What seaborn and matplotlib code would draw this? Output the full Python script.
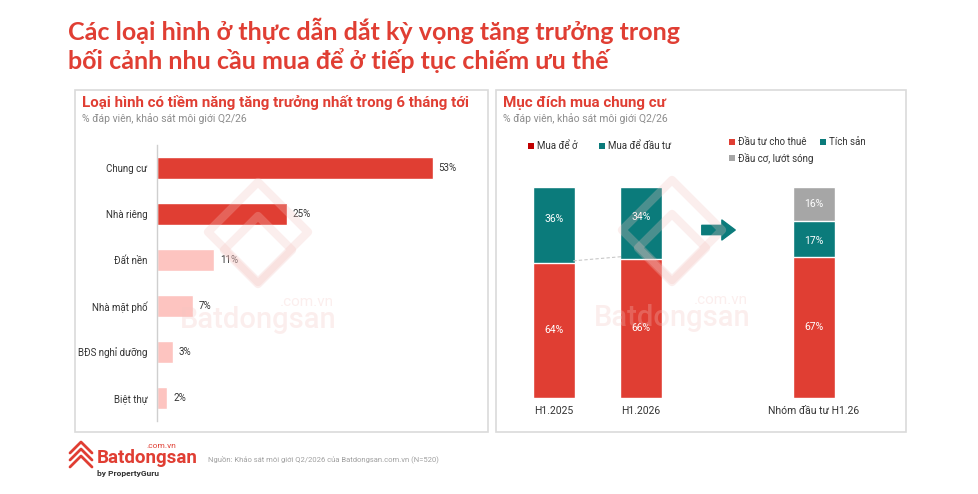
import matplotlib
matplotlib.use('Agg')
import matplotlib.pyplot as plt
from matplotlib.patches import Rectangle, Polygon
import pandas as pd
import seaborn as sns

# ── Dữ liệu ──────────────────────────────────────────────────────────────────
LOAI_HINH = ['Chung cư', 'Nhà riêng', 'Đất nền', 'Nhà mặt phố', 'BĐS nghỉ dưỡng', 'Biệt thự']
TY_LE     = [53, 25, 11, 7, 3, 2]

KY        = ['H1.2025', 'H1.2026']
MUA_DE_O  = [64, 66]
MUA_DAU_TU = [36, 34]

NHOM_DT   = 'Nhóm đầu tư H1.26'
DT_THUE   = 67
TICH_SAN  = 17
LUOT_SONG = 16

RED   = '#E03E33'
PINK  = '#FDC4C0'
TEAL  = '#0B7B7B'
GRAY  = '#A6A6A6'
TXT   = '#333333'
SUB   = '#8C8C8C'

W, H = 979, 494

sns.set_theme(style='white')
plt.rcParams['font.family'] = ['Roboto', 'DejaVu Sans']

fig = plt.figure(figsize=(W / 100, H / 100), dpi=100)
fig.patch.set_facecolor('white')


def fx(x):
    return x / W


def fy(y):
    return 1 - y / H


def box(x0, y0, x1, y1, **kw):
    fig.add_artist(Rectangle((fx(x0), fy(y1)), fx(x1) - fx(x0), fy(y0) - fy(y1),
                             transform=fig.transFigure, **kw))


def swatch(x, y, color, s=6):
    box(x - s / 2, y - s / 2, x + s / 2, y + s / 2, facecolor=color, edgecolor='none', zorder=5)


def watermark(cx, cy):
    wm = dict(color='#F4C4C1', alpha=0.28, zorder=20)
    # icon (hai hình thoi lồng nhau)
    for r, dy in [(50, 0), (34, 18)]:
        pts = [(cx, cy - r + dy), (cx + r, cy + dy), (cx, cy + r + dy), (cx - r, cy + dy)]
        fig.add_artist(Polygon([(fx(a), fy(b)) for a, b in pts], closed=True, fill=False,
                               lw=6, joinstyle='round', transform=fig.transFigure, **wm))
    fig.text(fx(cx), fy(cy + 88), 'Batdongsan', ha='center', va='center', fontsize=21,
             fontweight='medium', **wm)
    fig.text(fx(cx + 76), fy(cy + 70), '.com.vn', ha='right', va='center', fontsize=11, **wm)


# ── Tiêu đề chính ────────────────────────────────────────────────────────────
fig.text(fx(68), fy(31), 'Các loại hình ở thực dẫn dắt kỳ vọng tăng trưởng trong',
         fontsize=18, fontweight='bold', color=RED, va='center', family=['Lato', 'DejaVu Sans'])
fig.text(fx(68), fy(61), 'bối cảnh nhu cầu mua để ở tiếp tục chiếm ưu thế',
         fontsize=18, fontweight='bold', color=RED, va='center', family=['Lato', 'DejaVu Sans'])

# khung hai panel
box(75, 90, 488, 432, facecolor='white', edgecolor='#DADADA', lw=1.2, zorder=0)
box(496, 90, 906, 432, facecolor='white', edgecolor='#DADADA', lw=1.2, zorder=0)

# ── Panel trái ──────────────────────────────────────────────────────────────
fig.text(fx(82), fy(103), 'Loại hình có tiềm năng tăng trưởng nhất trong 6 tháng tới',
         fontsize=10.9, fontweight='bold', color=RED, va='center')
fig.text(fx(82), fy(119), '% đáp viên, khảo sát môi giới Q2/26', fontsize=7.5, color=SUB, va='center')

df_l = pd.DataFrame({'loai': LOAI_HINH, 'ty_le': TY_LE})
colors_l = [RED if v >= 20 else PINK for v in TY_LE]

ax1 = fig.add_axes([fx(157), fy(421), fx(469) - fx(157), fy(145) - fy(421)])
sns.barplot(data=df_l, y='loai', x='ty_le', hue='loai', palette=colors_l, legend=False,
            width=0.48, saturation=1, ax=ax1, orient='h')
ax1.set_xlim(0, 60)
ax1.set_ylim(5.5, -0.5)
for i, v in enumerate(TY_LE):
    ax1.text(v + 1.1, i, f'{v}%', va='center', ha='left', fontsize=7, color=TXT)
ax1.set_xlabel('')
ax1.set_ylabel('')
ax1.set_xticks([])
ax1.tick_params(axis='y', length=0, labelsize=7, labelcolor=TXT, pad=7)
for s in ['top', 'right', 'bottom']:
    ax1.spines[s].set_visible(False)
ax1.spines['left'].set_color('#CFCFCF')
ax1.spines['left'].set_linewidth(1)
ax1.patch.set_alpha(0)

# ── Panel phải ──────────────────────────────────────────────────────────────
fig.text(fx(503), fy(103), 'Mục đích mua chung cư', fontsize=10.9, fontweight='bold', color=RED, va='center')
fig.text(fx(503), fy(119), '% đáp viên, khảo sát môi giới Q2/26', fontsize=7.5, color=SUB, va='center')

ax2 = fig.add_axes([fx(511), fy(398), fx(857) - fx(511), fy(187) - fy(398)])
order = KY + [' ', NHOM_DT]

# lớp trên cùng trước, lớp dưới vẽ đè lên
df_top = pd.DataFrame({'ky': KY + [NHOM_DT],
                       'v': [a + b for a, b in zip(MUA_DE_O, MUA_DAU_TU)] + [DT_THUE + TICH_SAN + LUOT_SONG],
                       'c': [TEAL, TEAL, GRAY]})
df_mid = pd.DataFrame({'ky': [NHOM_DT], 'v': [DT_THUE + TICH_SAN]})
df_bot = pd.DataFrame({'ky': KY + [NHOM_DT], 'v': MUA_DE_O + [DT_THUE]})

sns.barplot(data=df_top, x='ky', y='v', hue='ky', palette=list(df_top['c']), order=order,
            legend=False, width=0.48, saturation=1, ax=ax2)
sns.barplot(data=df_mid, x='ky', y='v', color=TEAL, order=order, width=0.48, saturation=1, ax=ax2)
sns.barplot(data=df_bot, x='ky', y='v', color=RED, order=order, width=0.48, saturation=1, ax=ax2)

ax2.set_xlim(-0.5, 3.5)
ax2.set_ylim(0, 100)
ax2.set_xlabel('')
ax2.set_ylabel('')
ax2.set_yticks([])
ax2.tick_params(axis='x', length=0, labelsize=7.5, labelcolor=TXT, pad=6)
sns.despine(ax=ax2, left=True, bottom=True)
ax2.patch.set_alpha(0)

lbl = dict(ha='center', va='center', fontsize=7.5, color='white')
for i, (o, d) in enumerate(zip(MUA_DE_O, MUA_DAU_TU)):
    ax2.text(i, o / 2, f'{o}%', **lbl)
    ax2.text(i, o + d / 2 + 3, f'{d}%', **lbl)
ax2.text(3, DT_THUE / 2, f'{DT_THUE}%', **lbl)
ax2.text(3, DT_THUE + TICH_SAN / 2 - 1, f'{TICH_SAN}%', **lbl)
ax2.text(3, DT_THUE + TICH_SAN + LUOT_SONG / 2, f'{LUOT_SONG}%', **lbl)

# đường nối mua để ở
ax2.plot([0.22, 0.78], [MUA_DE_O[0] + 1, MUA_DE_O[1] + 1], ls=(0, (3, 2)), color='#C8C8C8', lw=0.8, zorder=4)

# mũi tên
ax2.annotate('', xy=(738, H - 230), xytext=(699, H - 230), xycoords='figure pixels',
             arrowprops=dict(arrowstyle='simple,head_length=0.6,head_width=0.9,tail_width=0.42',
                             fc=TEAL, ec=TEAL, mutation_scale=16))

# chú thích
swatch(531, 146, '#C00000')
fig.text(fx(537), fy(146), 'Mua để ở', fontsize=7, color=TXT, va='center')
swatch(602, 146, TEAL)
fig.text(fx(608), fy(146), 'Mua để đầu tư', fontsize=7, color=TXT, va='center')
swatch(732, 142, RED)
fig.text(fx(738), fy(142), 'Đầu tư cho thuê', fontsize=7, color=TXT, va='center')
swatch(823, 142, TEAL)
fig.text(fx(829), fy(142), 'Tích sản', fontsize=7, color=TXT, va='center')
swatch(732, 158, GRAY)
fig.text(fx(738), fy(158), 'Đầu cơ, lướt sóng', fontsize=7, color=TXT, va='center')

watermark(258, 232)
watermark(672, 230)

# ── Chân trang ──────────────────────────────────────────────────────────────
for dy in [0, 7, 14]:
    pts = [(70, 460 + dy - 7), (81, 449 + dy - 7), (92, 460 + dy - 7)]
    fig.add_artist(plt.Line2D([fx(p[0]) for p in pts], [fy(p[1]) for p in pts],
                              color=RED, lw=2, transform=fig.transFigure))
fig.text(fx(97), fy(458), 'Batdongsan', fontsize=13.5, fontweight='bold', color=RED, va='center')
fig.text(fx(176), fy(446), '.com.vn', fontsize=6, color=RED, va='center', ha='right')
fig.text(fx(97), fy(473), 'by PropertyGuru', fontsize=6, fontweight='bold', color='#333333', va='center')
fig.text(fx(208), fy(459), 'Nguồn: Khảo sát môi giới Q2/2026 của Batdongsan.com.vn (N=520)',
         fontsize=5.5, color='#A0A0A0', va='center')

fig.savefig('out.png', dpi=100, facecolor='white')
